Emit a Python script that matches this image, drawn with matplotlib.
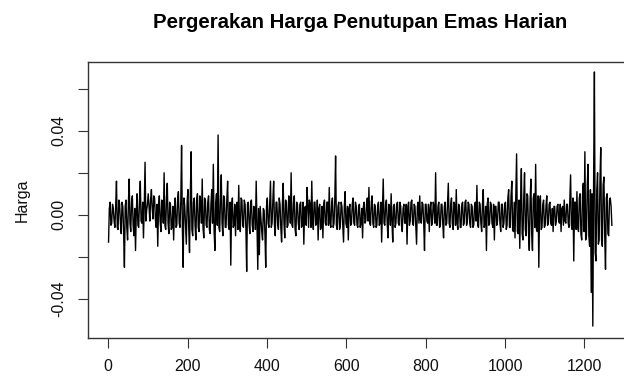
import numpy as np
import matplotlib
matplotlib.use("Agg")
import matplotlib.pyplot as plt

# Daily gold closing-price returns.
# harga: observations 1, 5, 9, ...; harga_mid: observations 3, 7, 11, ...
harga = [
    -0.013, 0.006, -0.004, 0.003, -0.006, 0.016, -0.007, 0.005, -0.009, 0.004,
    -0.025, 0.007, -0.012, 0.017, -0.008, 0.009, -0.010, -0.017, 0.010, -0.006,
    0.016, -0.004, -0.011, 0.025, 0.002,
    0.010, -0.003, 0.012, -0.002, 0.008, -0.006, -0.015, 0.009, -0.008, 0.006,
    0.020, -0.007, 0.015, -0.009, 0.005, -0.006, -0.012, 0.008, -0.005, 0.011,
    -0.006, 0.033, -0.025, 0.004, -0.014,
    0.012, -0.018, 0.030, -0.010, 0.008, -0.012, 0.010, -0.008, 0.006, 0.017,
    -0.011, 0.007, -0.006, 0.009, -0.009, 0.012, 0.024, -0.017, 0.010, 0.038,
    -0.008, 0.019, -0.010, 0.008, -0.006,
    0.016, -0.007, -0.024, 0.008, -0.005, -0.010, 0.006, 0.014, -0.008, 0.007,
    -0.006, 0.005, -0.027, 0.006, -0.009, 0.007, -0.008, 0.003, 0.016, -0.026,
    -0.019, -0.002, -0.012, 0.002, -0.025,
    0.008, -0.006, 0.016, -0.004, 0.016, -0.010, 0.006, -0.007, 0.005, -0.013,
    0.015, -0.011, 0.006, -0.005, 0.008, 0.020, -0.006, 0.009, -0.010, 0.005,
    -0.007, 0.006, -0.005, -0.014, 0.004,
    0.013, -0.006, 0.005, 0.016, -0.007, 0.006, -0.004, -0.012, 0.005, -0.006,
    -0.011, 0.007, -0.005, 0.006, 0.013, -0.006, 0.008, -0.004, 0.028, -0.007,
    0.006, -0.005, 0.004, -0.013, 0.011,
    -0.006, -0.012, 0.005, -0.004, 0.008, -0.005, 0.004, -0.006, 0.005, -0.004,
    -0.011, 0.006, -0.003, 0.008, 0.013, -0.005, 0.009, -0.006, 0.004, -0.005,
    0.006, -0.004, -0.013, 0.017, -0.005,
    0.007, -0.011, 0.004, 0.010, -0.013, 0.005, -0.004, 0.006, -0.005, 0.004,
    -0.008, 0.005, -0.004, -0.014, 0.006, -0.003, 0.007, -0.005, 0.004, -0.014,
    0.006, 0.009, -0.004, 0.005, -0.017,
    0.005, -0.004, -0.008, 0.006, -0.003, 0.004, 0.020, -0.005, 0.006, -0.005,
    0.005, -0.011, 0.006, -0.004, 0.015, -0.006, 0.008, -0.007, 0.005, 0.012,
    -0.007, 0.004, -0.006, 0.006, -0.004,
    0.007, -0.003, 0.005, -0.006, 0.004, -0.005, 0.006, 0.014, -0.006, 0.005,
    -0.008, 0.012, -0.005, -0.017, 0.008, -0.004, 0.005, -0.006, -0.012, 0.004,
    -0.003, 0.006, -0.008, 0.005, -0.004,
    0.006, -0.005, 0.012, -0.006, 0.016, -0.008, -0.011, 0.029, -0.009, -0.016,
    0.022, -0.012, 0.020, -0.010, 0.009, -0.017, 0.017, -0.017, 0.010, 0.024,
    -0.008, -0.025, 0.009, -0.006, 0.007,
    -0.005, 0.009, -0.004, 0.006, -0.005, -0.008, 0.004, -0.003, 0.005, -0.004,
    -0.008, 0.004, 0.007, -0.004, 0.005, -0.006, 0.019, -0.007, -0.022, 0.006,
    0.011, -0.008, 0.010, -0.012, 0.015,
    0.030, -0.010, 0.024, -0.015, -0.037, -0.053, 0.068, -0.022, 0.020, -0.012,
    0.032, -0.015, 0.018, -0.026, 0.010, -0.010, 0.008, -0.005,
]
harga_mid = [
    0.003, -0.005, 0.005, -0.003, 0.004, -0.006, 0.007, -0.004, 0.006, -0.008,
    0.004, -0.006, 0.005, -0.004, 0.006, -0.005, 0.003, 0.002, -0.005, 0.007,
    -0.003, 0.006, 0.004, -0.003, 0.005,
    0.004, 0.007, 0.003, 0.009, -0.002, 0.005, 0.004, -0.003, 0.007, -0.004,
    -0.005, 0.008, -0.004, 0.006, -0.007, 0.004, 0.003, -0.006, 0.007, -0.004,
    0.006, -0.006, 0.008, -0.005, 0.006,
    -0.006, 0.008, -0.007, 0.006, -0.005, 0.007, -0.006, 0.009, -0.004, -0.006,
    0.008, -0.005, 0.006, -0.007, 0.005, -0.004, -0.008, 0.006, -0.005, -0.006,
    0.007, -0.004, 0.009, -0.006, 0.007,
    -0.005, 0.006, 0.004, -0.006, 0.005, 0.003, -0.007, -0.004, 0.008, -0.005,
    0.007, -0.006, 0.005, -0.004, 0.006, -0.005, 0.004, -0.007, -0.006, 0.003,
    0.004, -0.008, 0.003, -0.009, 0.004,
    -0.004, 0.005, -0.006, 0.007, -0.005, 0.006, -0.004, 0.008, -0.006, 0.005,
    -0.004, 0.007, -0.006, 0.009, -0.004, -0.005, 0.006, -0.007, 0.006, -0.004,
    0.005, -0.006, 0.006, 0.003, -0.005,
    0.005, 0.007, -0.006, -0.003, 0.006, -0.005, 0.007, 0.003, -0.007, 0.004,
    0.005, -0.004, 0.006, -0.005, -0.004, 0.005, -0.006, 0.007, -0.005, 0.004,
    -0.007, 0.006, -0.005, 0.004, -0.004,
    0.004, 0.003, -0.005, 0.005, -0.004, 0.006, -0.005, 0.004, -0.006, 0.003,
    0.004, -0.004, 0.005, -0.003, -0.004, 0.006, -0.004, 0.005, -0.006, 0.004,
    -0.005, 0.006, 0.003, -0.004, 0.005,
    -0.004, 0.005, -0.005, -0.003, 0.004, -0.006, 0.005, -0.004, 0.006, -0.005,
    0.003, -0.004, 0.005, 0.004, -0.005, 0.006, -0.004, 0.005, -0.005, 0.004,
    -0.004, -0.003, 0.006, -0.004, 0.005,
    -0.003, 0.005, 0.003, -0.005, 0.006, -0.004, -0.005, 0.004, -0.006, 0.005,
    -0.004, 0.004, -0.005, 0.006, -0.004, 0.005, -0.004, 0.006, -0.005, -0.004,
    0.005, -0.006, 0.005, -0.005, 0.006,
    -0.005, 0.006, -0.004, 0.005, -0.006, 0.004, -0.003, -0.005, 0.006, -0.004,
    0.005, -0.006, 0.004, 0.005, -0.005, 0.006, -0.004, 0.005, 0.004, -0.005,
    0.006, -0.004, 0.005, -0.006, 0.005,
    -0.007, 0.008, -0.006, 0.009, -0.007, 0.006, 0.008, -0.008, 0.007, 0.006,
    -0.009, 0.008, -0.007, 0.010, -0.008, 0.007, -0.009, 0.008, -0.006, -0.007,
    0.009, 0.006, -0.007, 0.005, -0.006,
    0.004, -0.005, 0.005, -0.004, 0.003, 0.004, -0.005, 0.004, -0.003, 0.005,
    0.003, -0.005, -0.003, 0.005, -0.004, 0.006, -0.005, 0.008, 0.006, -0.007,
    -0.006, 0.008, -0.009, 0.009, -0.008,
    -0.012, 0.014, -0.010, 0.012, 0.010, 0.015, -0.018, 0.012, -0.014, 0.016,
    -0.012, 0.014, -0.010, 0.008, -0.009, 0.007, 0.004,
]

# interleave the two sampled series into observation order 1, 3, 5, ...
series = np.empty(len(harga) + len(harga_mid))
series[0::2] = harga
series[1::2] = harga_mid
index = np.arange(1, 2 * len(series), 2)

x_ticks = [0, 200, 400, 600, 800, 1000, 1200]
y_ticks = [-0.04, -0.02, 0.00, 0.02, 0.04, 0.06]
y_ticklabels = ["-0.04", "", "0.00", "", "0.04", ""]

title = "Pergerakan Harga Penutupan Emas Harian"
ylabel = "Harga"

plt.rcParams['font.family'] = ['Liberation Sans', 'DejaVu Sans']

W, H = 624, 378
fig = plt.figure(figsize=(W / 100, H / 100), dpi=100)
left, right, top, bottom = 88.4, 632.0, 61.5, 338.0
ax = fig.add_axes([left / W, 1 - bottom / H, (right - left) / W, (bottom - top) / H])

ax.plot(index, series, color='black', lw=1.0)

n = index[-1]
ext = 0.04 * (n - 1)
ax.set_xlim(1 - ext, n + ext)
ymin, ymax = -0.0538, 0.0681
yext = 0.04 * (ymax - ymin)
ax.set_ylim(ymin - yext, ymax + yext)

ax.set_xticks(x_ticks)
ax.set_xticklabels([str(t) for t in x_ticks])
ax.set_yticks(y_ticks)
ax.set_yticklabels(y_ticklabels, rotation=90, va='center')

for s in ax.spines.values():
    s.set_color('#333333')
    s.set_linewidth(1.0)
ax.tick_params(axis='both', direction='out', length=7, width=0.8,
               color='#333333', labelsize=11.5, labelcolor='#111111')
ax.tick_params(axis='x', pad=8)
ax.tick_params(axis='y', pad=9)

fig.text(22 / W, 1 - 200 / H, ylabel, rotation=90, ha='center', va='center',
         fontsize=11.5, color='#111111')
fig.text(360 / W, 1 - 28 / H, title, ha='center', va='baseline',
         fontsize=14.7, fontweight='bold', color='black')

fig.savefig("out.png", dpi=100)
